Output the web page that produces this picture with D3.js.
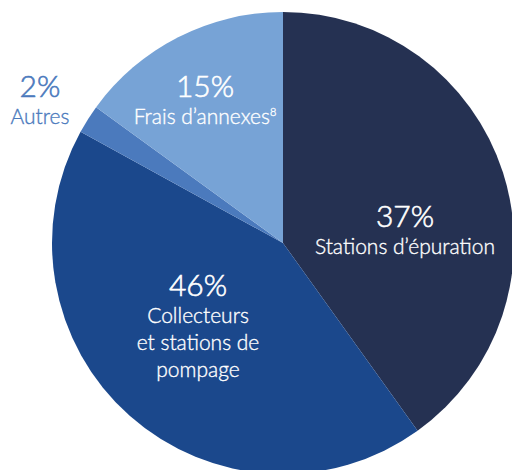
<!DOCTYPE html>
<html>
<head>
<meta charset="utf-8">
<script src="https://cdn.jsdelivr.net/npm/d3@7"></script>
<style>
  html, body { margin: 0; padding: 0; background: #fff; }
  svg { display: block; font-family: Lato, "Open Sans", sans-serif; }
</style>
</head>
<body>
<svg id="chart" width="512" height="470"></svg>
<script>
// slice order, clockwise from 12 o'clock
var categories = ["Stations d’épuration", "Collecteurs et stations de pompage", "Autres", "Frais d’annexes"];
// angular share as drawn in the picture
var shares = [40.1, 42.9, 2.0, 15.0];
// printed percentages
var pctLabels = ["37%", "46%", "2%", "15%"];
var colors = ["#253152", "#1b488c", "#4b7abd", "#77a3d6"];

var svg = d3.select("#chart"),
    cx = 283, cy = 243, radius = 231;

var pie = d3.pie().sort(null).value(function(d) { return d; });
var arc = d3.arc().innerRadius(0).outerRadius(radius);

var g = svg.append("g").attr("transform", "translate(" + cx + "," + cy + ")");

g.selectAll("path")
    .data(pie(shares))
    .enter().append("path")
    .attr("d", arc)
    .attr("fill", function(d, i) { return colors[i]; });

// label blocks: offset from pie centre, lines under the percentage
var labels = [
    { i: 0, dx: 122, dy: -16, lines: ["Stations d’épuration"], fill: "#fff" },
    { i: 1, dx: -85, dy: 53, lines: ["Collecteurs", "et stations de", "pompage"], fill: "#fff" },
    { i: 2, dx: -243, dy: -146, lines: ["Autres"], fill: "#4b7abd" },
    { i: 3, dx: -78, dy: -146, lines: ["Frais d’annexes"], fill: "#fff", sup: "8" }
];

labels.forEach(function(l) {
    var t = g.append("g").attr("transform", "translate(" + l.dx + "," + l.dy + ")");
    t.append("text")
        .attr("text-anchor", "middle")
        .attr("fill", l.fill)
        .attr("stroke", l.fill)
        .attr("stroke-width", 0.6)
        .style("font-size", "30px")
        .style("font-weight", 300)
        .text(pctLabels[l.i]);
    l.lines.forEach(function(line, k) {
        var tx = t.append("text")
            .attr("text-anchor", "middle")
            .attr("y", 27 + k * 27)
            .attr("fill", l.fill)
            .attr("stroke", l.fill)
            .attr("stroke-width", 0.35)
            .style("font-size", "21px")
            .style("font-weight", 300)
            .text(line);
        if (l.sup && k === 0) {
            tx.append("tspan")
                .attr("dy", -8)
                .style("font-size", "11px")
                .text(l.sup);
        }
    });
});
</script>
</body>
</html>
